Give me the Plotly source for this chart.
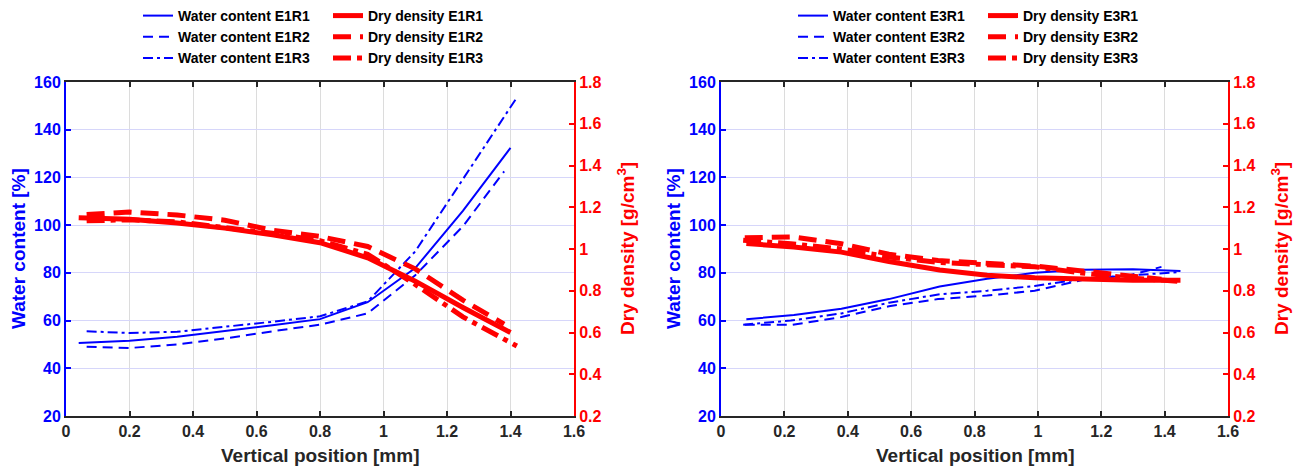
import plotly.graph_objects as go

W, H = 1301, 467

# ---------------- Data (left panel: E1) ----------------
x_e1r1 = [0.04, 0.2, 0.35, 0.5, 0.65, 0.8, 0.95, 1.1, 1.25, 1.4]
w_e1r1 = [50.6, 51.5, 53.2, 55.5, 58.0, 60.6, 67.7, 82.0, 106.0, 132.4]
d_e1r1 = [1.15, 1.142, 1.125, 1.10, 1.068, 1.03, 0.958, 0.846, 0.72, 0.60]

x_e1r2 = [0.065, 0.2, 0.35, 0.5, 0.65, 0.8, 0.95, 1.1, 1.25, 1.38]
w_e1r2 = [49.0, 48.5, 50.0, 52.5, 55.5, 58.3, 63.0, 79.0, 99.5, 122.5]
d_e1r2 = [1.165, 1.177, 1.163, 1.138, 1.09, 1.06, 1.012, 0.905, 0.755, 0.64]

x_e1r3 = [0.065, 0.2, 0.35, 0.5, 0.65, 0.8, 0.95, 1.1, 1.25, 1.42]
w_e1r3 = [55.5, 54.8, 55.3, 57.3, 59.5, 61.8, 68.0, 89.0, 119.0, 153.5]
d_e1r3 = [1.135, 1.14, 1.13, 1.105, 1.075, 1.04, 0.975, 0.83, 0.675, 0.535]

# ---------------- Data (right panel: E3) ----------------
x_e3r1 = [0.08, 0.23, 0.38, 0.53, 0.69, 0.84, 0.99, 1.14, 1.3, 1.45]
w_e3r1 = [60.6, 62.3, 65.0, 69.0, 74.3, 77.5, 80.0, 81.3, 81.5, 80.8]
d_e3r1 = [1.026, 1.01, 0.985, 0.94, 0.899, 0.874, 0.862, 0.855, 0.85, 0.85]

x_e3r2 = [0.075, 0.225, 0.38, 0.53, 0.685, 0.84, 0.99, 1.14, 1.29, 1.39]
w_e3r2 = [58.3, 58.2, 61.5, 66.0, 69.0, 70.5, 72.5, 77.0, 79.0, 82.5]
d_e3r2 = [1.054, 1.058, 1.025, 0.975, 0.945, 0.93, 0.918, 0.895, 0.87, 0.855]

x_e3r3 = [0.07, 0.22, 0.38, 0.53, 0.69, 0.84, 0.99, 1.14, 1.3, 1.44]
w_e3r3 = [58.3, 60.0, 63.0, 67.5, 71.0, 72.5, 74.5, 77.5, 79.0, 80.3]
d_e3r3 = [1.042, 1.025, 1.0, 0.962, 0.935, 0.925, 0.915, 0.885, 0.86, 0.846]

# tick values / labels
x_ticks = [0, 0.2, 0.4, 0.6, 0.8, 1, 1.2, 1.4, 1.6]
x_labels = ["0", "0.2", "0.4", "0.6", "0.8", "1", "1.2", "1.4", "1.6"]
w_ticks = [20, 40, 60, 80, 100, 120, 140, 160]
d_ticks = [0.2, 0.4, 0.6, 0.8, 1.0, 1.2, 1.4, 1.6, 1.8]
d_labels = ["0.2", "0.4", "0.6", "0.8", "1", "1.2", "1.4", "1.6", "1.8"]

BLUE = "#0000ff"
RED = "#ff0000"
DARK = "#262626"
FONT = "Liberation Sans, Arial, sans-serif"

WD = {"solid": "solid", "dash": "10px,6px", "dashdot": "10px,4px,3px,4px"}
RD = {"solid": "solid", "dash": "18px,9px", "dashdot": "18px,6px,5px,6px"}

fig = go.Figure()

def add_panel(xa, ya, ya2, leg_w, leg_d, series):
    for name, xs, ws, ds, style in series:
        fig.add_trace(go.Scatter(
            x=xs, y=ws, mode="lines", name=f"Water content {name}",
            line=dict(color=BLUE, width=2, dash=WD[style]),
            xaxis=xa, yaxis=ya, legend=leg_w))
    for name, xs, ws, ds, style in series:
        fig.add_trace(go.Scatter(
            x=xs, y=ds, mode="lines", name=f"Dry density {name}",
            line=dict(color=RED, width=5, dash=RD[style]),
            xaxis=xa, yaxis=ya2, legend=leg_d))

add_panel("x", "y", "y2", "legend", "legend2", [
    ("E1R1", x_e1r1, w_e1r1, d_e1r1, "solid"),
    ("E1R2", x_e1r2, w_e1r2, d_e1r2, "dash"),
    ("E1R3", x_e1r3, w_e1r3, d_e1r3, "dashdot"),
])
add_panel("x2", "y3", "y4", "legend3", "legend4", [
    ("E3R1", x_e3r1, w_e3r1, d_e3r1, "solid"),
    ("E3R2", x_e3r2, w_e3r2, d_e3r2, "dash"),
    ("E3R3", x_e3r3, w_e3r3, d_e3r3, "dashdot"),
])

def px(v):
    return v / W

def py(v):
    return 1 - v / H

ydom = [py(416), py(82)]
xdomL = [px(66), px(574)]
xdomR = [px(721), px(1228)]

TS = 16
tickfont_x = dict(family=FONT, size=TS, color=DARK, weight="bold")
tickfont_b = dict(family=FONT, size=TS, color=BLUE, weight="bold")
tickfont_r = dict(family=FONT, size=TS, color=RED, weight="bold")

def xaxis_cfg(dom, anchor):
    return dict(domain=dom, anchor=anchor, range=[0, 1.6], tickvals=x_ticks,
                ticktext=x_labels, automargin=False,
                ticks="inside", ticklen=5, tickwidth=2, tickcolor=DARK,
                showline=True, linecolor=DARK, linewidth=2, mirror="ticks",
                showgrid=True, gridcolor="#dcdcdc", gridwidth=1,
                zeroline=False, tickfont=tickfont_x)

def yaxis_cfg(anchor):
    return dict(domain=ydom, anchor=anchor, range=[20, 160], tickvals=w_ticks,
                automargin=False,
                ticks="inside", ticklen=5, tickwidth=2, tickcolor=BLUE,
                showline=True, linecolor=BLUE, linewidth=2,
                showgrid=True, gridcolor="#d6d6fa", gridwidth=1,
                zeroline=False, tickfont=tickfont_b)

def y2axis_cfg(anchor, over):
    return dict(domain=ydom, anchor=anchor, overlaying=over, side="right",
                range=[0.2, 1.8], tickvals=d_ticks, ticktext=d_labels,
                automargin=False,
                ticks="inside", ticklen=5, tickwidth=2, tickcolor=RED,
                showline=True, linecolor=RED, linewidth=2,
                showgrid=False, zeroline=False, tickfont=tickfont_r)

legfont = dict(family=FONT, size=14, color="black", weight="bold")

def leg(xpix):
    return dict(x=px(xpix), y=py(0), xanchor="left", yanchor="top",
                orientation="v", font=legfont, bgcolor="rgba(0,0,0,0)",
                itemwidth=30, tracegroupgap=0)

anns = []
TT = 19
for dom in (xdomL, xdomR):
    anns.append(dict(text="Vertical position [mm]", x=(dom[0] + dom[1]) / 2, y=py(455),
                     xref="paper", yref="paper", showarrow=False,
                     xanchor="center", yanchor="middle",
                     font=dict(family=FONT, size=TT, color=DARK, weight="bold")))
for xp in (18, 673):
    anns.append(dict(text="Water content [%]", x=px(xp), y=py(249), textangle=-90,
                     xref="paper", yref="paper", showarrow=False,
                     xanchor="center", yanchor="middle",
                     font=dict(family=FONT, size=TT, color=BLUE, weight="bold")))
for xp in (626, 1280):
    anns.append(dict(text="Dry density [g/cm<sup>3</sup>]", x=px(xp), y=py(249), textangle=-90,
                     xref="paper", yref="paper", showarrow=False,
                     xanchor="center", yanchor="middle",
                     font=dict(family=FONT, size=TT, color=RED, weight="bold")))

fig.update_layout(
    width=W, height=H, autosize=False,
    margin=dict(l=0, r=0, t=0, b=0, autoexpand=False),
    paper_bgcolor="white", plot_bgcolor="white",
    showlegend=True,
    xaxis=xaxis_cfg(xdomL, "y"),
    yaxis=yaxis_cfg("x"),
    yaxis2=y2axis_cfg("x", "y"),
    xaxis2=xaxis_cfg(xdomR, "y3"),
    yaxis3=yaxis_cfg("x2"),
    yaxis4=y2axis_cfg("x2", "y3"),
    legend=leg(138),
    legend2=leg(328),
    legend3=leg(793),
    legend4=leg(983),
    annotations=anns,
)

fig.write_html("out.html")
